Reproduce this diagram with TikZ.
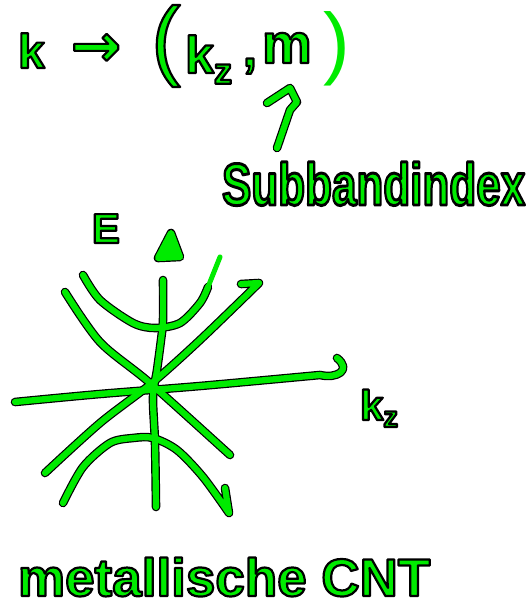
\documentclass[tikz,border=0pt]{standalone}
\usepackage{fontspec}
\setmainfont{Liberation Sans}
\newfontfamily\arrowfont{DejaVu Sans}
\usepackage{graphicx}
\usetikzlibrary{calc}
\definecolor{hgreen}{RGB}{0,235,0}
\newcommand\olt[1]{\special{pdf:literal direct 1 j 1 J 2.2 w 0 G 2 Tr}#1\special{pdf:literal direct 0 Tr}}
\newcommand\fsz[1]{\fontsize{#1}{#1}\selectfont}
\newcommand\handpaths[2]{%
  \draw[#1] plot[smooth] coordinates {(163,280) (163,320) (161,340) (157,370) (153,397) (155,443) (156,507)};
  \filldraw[#1, fill=#2] (171,233) -- (158,258) -- (180,257) -- cycle;
  \draw[#1] plot[smooth] coordinates {(15,402) (100,394) (200,386) (320,375)} .. controls (337,379) and (352,370) .. (337,358);
  \draw[#1] plot[smooth] coordinates {(65,292) (100,342) (150,383) (230,455)};
  \draw[#1] plot[smooth] coordinates {(45,473) (100,423) (152,383) (200,340) (259,283)} -- (241,284);
  \draw[#1] plot[smooth] coordinates {(83,275) (100,300) (133,323) (155,328) (180,323) (200,303) (208,287)};
  \draw[#1] plot[smooth] coordinates {(63,503) (83,467) (110,443) (133,438) (153,438) (177,450) (203,477) (229,513)} -- (225,488);
  \draw[#1] ($(subband.base west)+(55,-57)$) -- ($(m.base west)+(28,47)$) -- ($(m.base west)+(35,39)$) -- ($(m.base west)+(28,25)$) -- ($(m.base west)+(5,40)$);
}
\begin{document}
\begin{tikzpicture}[x=1pt,y=-1pt,
  hand/.style={text=hgreen, inner sep=0pt, outer sep=0pt},
  outl/.style={draw=black, line width=8.6pt, line cap=round, line join=round},
  inl/.style={draw=hgreen, line width=6.2pt, line cap=round, line join=round},
  lite/.style={draw=hgreen, line width=5pt, line cap=round}]
\useasboundingbox[fill=white] (0,0) rectangle (529,610);
% formula
\node[hand, anchor=base west, font=\bfseries\fsz{48}] (k) at (18,68) {\olt{k}};
\node[hand, font=\arrowfont\bfseries\fsz{60}] (to) at (96,50) {\olt{→}};
\node[hand, font=\fsz{88}] (lp) at (166,46) {\olt{(}};
\node[hand, anchor=base west, font=\bfseries\fsz{52}] (kz) at (185,73) {\olt{k\textsubscript{z}}};
\node[hand, anchor=base west, font=\bfseries\fsz{50}] (comma) at (243,66) {\olt{,}};
\node[hand, anchor=base west, font=\bfseries\fsz{56}] (m) at (262,63) {\olt{m}};
\node[hand, font=\fsz{80}] (rp) at (337,49) {)};
\node[hand, anchor=base west, font=\bfseries\fsz{44}] (subband) at (222,205) {\olt{\scalebox{1}[1.35]{Subbandindex}}};
% graph labels
\node[hand, anchor=base west, font=\bfseries\fsz{42}] (E) at (92,243) {\olt{E}};
\node[hand, anchor=base west, font=\bfseries\fsz{42}] (kzax) at (360,420) {\olt{k\textsubscript{z}}};
\node[hand, anchor=base west, font=\bfseries\fsz{53}] (cnt) at (18,596) {\olt{metallische CNT}};
% strokes
\handpaths{outl}{black}
\handpaths{inl}{hgreen}
\draw[lite] (208,287) -- (220,257);
\end{tikzpicture}
\end{document}
